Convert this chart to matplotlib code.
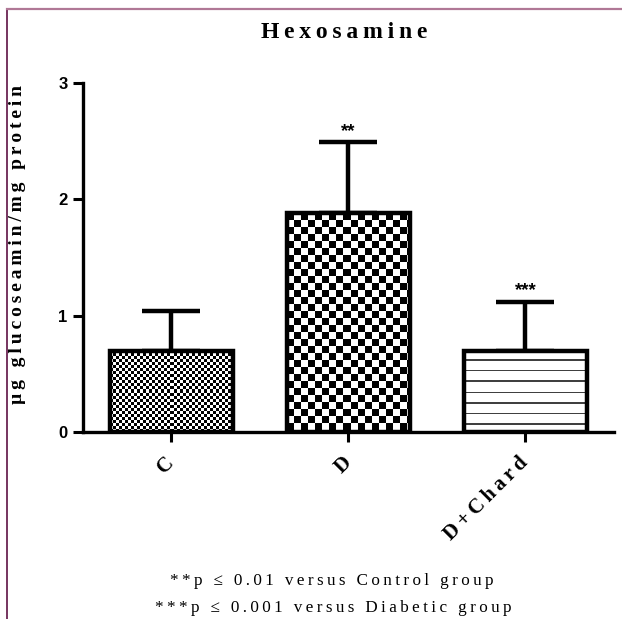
import numpy as np
import matplotlib
matplotlib.use("Agg")
import matplotlib.pyplot as plt
from matplotlib.lines import Line2D

# ====== data ======
groups = ["C", "D", "D+Chard"]
means = [0.70, 1.88, 0.70]
sem_up = [0.34, 0.61, 0.42]
stars = ["", "**", "***"]
yticks = [0, 1, 2, 3]
title = "Hexosamine"
ylabel = "µg glucoseamin/mg protein"
notes = ["**p ≤ 0.01 versus Control group",
         "***p ≤ 0.001 versus Diabetic group"]

SERIF = ["Liberation Serif", "DejaVu Serif"]
SANS = ["Liberation Sans", "DejaVu Sans"]


def spaced(s, gap="\u2009"):
    # loose letter spacing like the exported figure text
    return gap.join(s)


def pattern(kind, h_px, w_px):
    yy, xx = np.mgrid[0:h_px, 0:w_px]
    if kind == "fine":
        c = 3
        return ((yy // c + xx // c) % 2).astype(float)
    if kind == "coarse":
        c = 7
        return ((yy // c + xx // c) % 2).astype(float)
    # horizontal stripes, counted from the bottom
    arr = np.ones((h_px, w_px))
    rows = np.arange(h_px)
    from_bottom = h_px - 1 - rows
    dark = ((from_bottom - 7) % 10.45) < 1.5
    dark &= from_bottom > 3
    arr[dark, :] = 0.25
    return arr


fig = plt.figure(figsize=(6.22, 6.19), dpi=100)
ax = fig.add_axes([0.1334, 0.3021, 0.8537, 0.5638])

x = np.arange(len(groups))
ax.set_xlim(-0.5, 2.5)
ax.set_ylim(0, 3)

bars = ax.bar(x, means, width=0.69, facecolor="none", edgecolor="black",
              linewidth=3.2, zorder=3)

# fill each bar with its pattern as an image
kinds = ["fine", "coarse", "lines"]
for b, k in zip(bars, kinds):
    x0, y0, w, h = b.get_x(), b.get_y(), b.get_width(), b.get_height()
    p0 = ax.transData.transform((x0, y0))
    p1 = ax.transData.transform((x0 + w, y0 + h))
    w_px = int(round(p1[0] - p0[0]))
    h_px = int(round(p1[1] - p0[1]))
    img = pattern(k, h_px, w_px)
    ax.imshow(img, cmap="gray", vmin=0, vmax=1, extent=(x0, x0 + w, y0, y0 + h),
              aspect="auto", interpolation="nearest", origin="upper", zorder=2)

ax.set_xlim(-0.5, 2.5)
ax.set_ylim(0, 3)

ax.errorbar(x, means, yerr=[np.zeros(len(means)), sem_up], fmt="none",
            ecolor="black", elinewidth=3.2, capsize=21, capthick=3.2, zorder=1)

for xi, m, e, s in zip(x, means, sem_up, stars):
    if s:
        ax.text(xi, m + e + 0.02, s, ha="center", va="bottom", fontsize=13.5,
                family=SANS, fontweight="bold")

for side in ["top", "right"]:
    ax.spines[side].set_visible(False)
for side in ["left", "bottom"]:
    ax.spines[side].set_linewidth(2.4)

ax.set_yticks(yticks)
ax.set_yticklabels([str(t) for t in yticks], family=SANS, fontweight="bold",
                   fontsize=12)
ax.tick_params(axis="y", length=7, width=2.2, pad=4)
ax.set_xticks(x)
ax.set_xticklabels([spaced(g) for g in groups], family=SERIF, fontweight="bold",
                   fontsize=15, rotation=45, ha="right", va="center",
                   rotation_mode="anchor")
ax.tick_params(axis="x", length=7, width=2.2, pad=13)

ax.set_ylabel(spaced(ylabel), family=SERIF, fontweight="bold", fontsize=14)
ax.yaxis.set_label_coords(-0.108, 0.536)
fig.text(0.553, 0.947, spaced(title), ha="center", va="center", family=SERIF,
         fontweight="bold", fontsize=17)

fig.text(0.533, 0.061, spaced(notes[0]), ha="center", va="center",
         family=SERIF, fontsize=12.3)
fig.text(0.535, 0.017, spaced(notes[1]), ha="center", va="center",
         family=SERIF, fontsize=12.3)

# page frame lines
fig.add_artist(Line2D([7 / 622, 7 / 622], [0, 1 - 9 / 619], color="#6b2453",
                      linewidth=1.3, transform=fig.transFigure))
fig.add_artist(Line2D([7 / 622, 1], [1 - 8.5 / 619, 1 - 8.5 / 619],
                      color="#b07896", linewidth=1.6, transform=fig.transFigure))

fig.savefig("out.png", dpi=100)
